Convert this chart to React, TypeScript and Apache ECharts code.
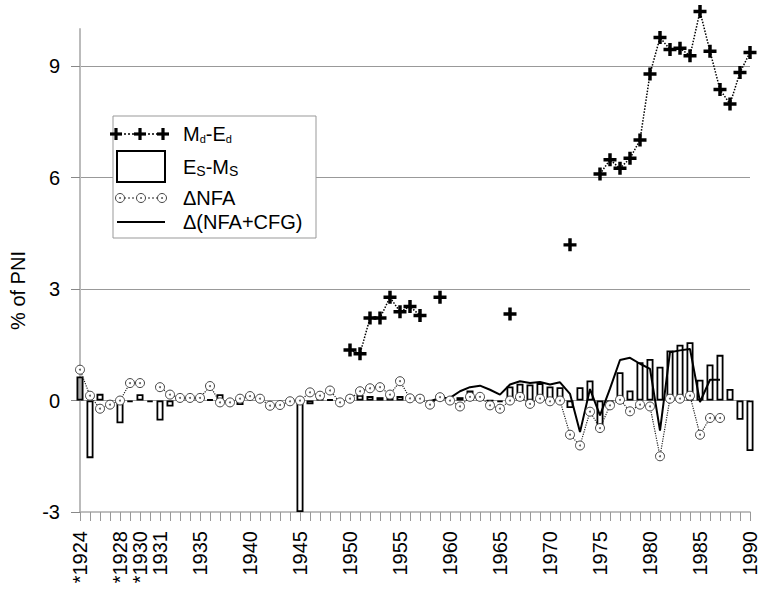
import React, { useEffect, useRef } from "react";
import * as echarts from "echarts";

// Category tick labels (one per category on the x axis)
const yearLabels: string[] = [
  "*1924", "", "", "", "*1928", "", "*1930", "", "1931", "", "", "", "1935", "", "", "", "",
  "1940", "", "", "", "", "1945", "", "", "", "", "1950", "", "", "", "", "1955", "", "", "", "",
  "1960", "", "", "", "", "1965", "", "", "", "", "1970", "", "", "", "", "1975", "", "", "", "",
  "1980", "", "", "", "", "1985", "", "", "", "", "1990",
];

// Md-Ed (% of PNI)
const mdEd: (number | null)[] = [
  null, null, null, null, null, null, null, null, null, null, null, null, null, null, null, null, null,
  null, null, null, null, null, null, null, null, null, null, 1.36, 1.26, 2.22, 2.22, 2.78, 2.39, 2.53, 2.29, null, 2.78,
  null, null, null, null, null, null, 2.33, null, null, null, null, null, 4.19, null, null, 6.10, 6.48, 6.25, 6.52, 7.01,
  8.79, 9.77, 9.45, 9.48, 9.28, 10.47, 9.40, 8.37, 7.98, 8.83, 9.37,
];

// Es-Ms (% of PNI)
const esMs: (number | null)[] = [
  0.65, -1.55, 0.18, -0.04, -0.61, -0.04, 0.17, -0.04, -0.54, -0.16, 0.12, 0.12, 0.1, 0.03, 0.17, -0.1, -0.12,
  null, null, null, null, null, -3.0, -0.1, 0.05, 0.03, -0.03, 0.15, 0.15, 0.12, 0.09, 0.12, 0.12, 0.05, 0.15, -0.05, 0.08,
  0.05, 0.09, 0.27, 0.17, 0.0, -0.04, 0.38, 0.45, 0.43, 0.47, 0.38, 0.36, -0.2, 0.36, 0.54, -0.8, -0.18, 0.76, 0.27, 1.03,
  1.12, 0.91, 1.35, 1.5, 1.57, 0.56, 0.97, 1.23, 0.31, -0.52, -1.36,
];

// ΔNFA (% of PNI)
const dNfa: (number | null)[] = [
  0.83, 0.13, -0.22, -0.11, 0, 0.47, 0.47, null, 0.36, 0.16, 0.07, 0.07, 0.07, 0.39, -0.05, -0.05, 0.05,
  0.12, 0.05, -0.14, -0.12, -0.02, 0, 0.22, 0.13, 0.27, -0.05, 0.05, 0.25, 0.33, 0.36, 0.16, 0.52, 0.06, 0.05, -0.11, 0.09,
  0, -0.16, 0.1, 0.1, -0.13, -0.22, 0, 0.1, -0.09, 0.05, -0.02, 0, -0.92, -1.21, -0.3, -0.74, -0.13, 0.02, -0.29, -0.11,
  -0.16, -1.5, 0.05, 0.05, 0.13, -0.92, -0.47, -0.47, null, null, null,
];

// Δ(NFA+CFG) (% of PNI)
const dNfaCfg: (number | null)[] = [
  null, null, null, null, null, null, null, null, null, null, null, null, null, null, null, null, null,
  null, null, null, null, null, null, null, null, null, null, null, null, null, null, null, null, null, null, -0.02, 0.07,
  0.07, 0.25, 0.36, 0.4, 0.29, 0.16, 0.43, 0.52, 0.47, 0.5, 0.43, 0.49, 0.18, -0.85, 0.31, -0.4, 0.32, 1.09, 1.15, 0.99,
  0.85, -0.81, 1.3, 1.35, 1.39, -0.04, 0.56, 0.56, null, null, null,
];

const yTicks = [-3, 0, 3, 6, 9];
const gridValues = [0, 3, 6, 9];

const FONT = "'Liberation Sans', Arial, sans-serif";
const PLUS = "path://M-1.6,-6H1.6V-1.6H6V1.6H1.6V6H-1.6V1.6H-6V-1.6H-1.6Z";

export default function App() {
  const ref = useRef<HTMLDivElement>(null);
  useEffect(() => {
    if (!ref.current) return;
    const chart = echarts.init(ref.current, null, { renderer: "svg" });
    const cats = yearLabels.map((_, i) => String(i));

    const plus = (cx: number, cy: number) => ({
      type: "group",
      x: cx,
      y: cy,
      z: 101,
      children: [
        { type: "rect", shape: { x: -6, y: -1.6, width: 12, height: 3.2 }, style: { fill: "#000" }, z: 101 },
        { type: "rect", shape: { x: -1.6, y: -6, width: 3.2, height: 12 }, style: { fill: "#000" }, z: 101 },
      ],
    });
    const circ = (cx: number, cy: number) => ({
      type: "group",
      x: cx,
      y: cy,
      z: 101,
      children: [
        { type: "circle", shape: { cx: 0, cy: 0, r: 4.5 }, style: { fill: "#fff", stroke: "#444", lineWidth: 1 }, z: 101 },
        { type: "circle", shape: { cx: 0, cy: 0, r: 0.8 }, style: { fill: "#333" }, z: 102 },
      ],
    });
    const textStyle = { fontFamily: FONT, fontSize: 20, fill: "#000" };

    chart.setOption({
      animation: false,
      backgroundColor: "#fff",
      grid: { left: 77, right: 8, top: 29, bottom: 79 },
      xAxis: {
        type: "category",
        data: cats,
        boundaryGap: false,
        axisLine: { onZero: false, lineStyle: { color: "#aaa", width: 1.5 } },
        axisTick: { interval: 0, length: 9, lineStyle: { color: "#999" } },
        axisLabel: {
          interval: 0,
          rotate: 90,
          margin: 19,
          fontFamily: FONT,
          fontSize: 20,
          color: "#000",
          formatter: (_v: string, i: number) => yearLabels[i],
        },
        splitLine: { show: false },
      },
      yAxis: {
        type: "value",
        min: -3,
        max: 10,
        name: "% of PNI",
        nameLocation: "middle",
        nameGap: 52,
        nameTextStyle: { fontFamily: FONT, fontSize: 20, color: "#000", padding: [0, 0, 0, -40] },
        axisLine: { show: true, lineStyle: { color: "#bbb", width: 2 } },
        axisTick: { show: true, length: 9, customValues: yTicks, lineStyle: { color: "#888" } },
        axisLabel: { customValues: yTicks, margin: 20, fontFamily: FONT, fontSize: 20, color: "#000" },
        splitLine: { show: false },
      },
      series: [
        {
          name: "Es-Ms",
          type: "bar",
          data: esMs.map((v, i) =>
            i === 0 ? { value: v, itemStyle: { color: "#aaa" } } : v
          ),
          barWidth: 7,
          clip: false,
          itemStyle: { color: "#fff", borderColor: "#000", borderWidth: 1.8 },
          markLine: {
            silent: true,
            symbol: "none",
            label: { show: false },
            lineStyle: { color: "#999", type: "solid", width: 1 },
            data: gridValues.map((v) => ({ yAxis: v })),
            z: 0,
          },
          z: 2,
        },
        {
          name: "Δ(NFA+CFG)",
          type: "line",
          data: dNfaCfg,
          showSymbol: false,
          connectNulls: false,
          clip: false,
          lineStyle: { color: "#000", width: 2 },
          z: 3,
        },
        {
          name: "ΔNFA",
          type: "line",
          data: dNfa,
          symbol: "circle",
          symbolSize: 9,
          connectNulls: false,
          clip: false,
          itemStyle: { color: "#fff", borderColor: "#444", borderWidth: 1 },
          lineStyle: { color: "#222", width: 1.2, type: "dotted" },
          z: 4,
        },
        {
          name: "ΔNFA dot",
          type: "scatter",
          data: dNfa,
          symbol: "circle",
          symbolSize: 2,
          clip: false,
          itemStyle: { color: "#333" },
          z: 5,
        },
        {
          name: "Md-Ed",
          type: "line",
          data: mdEd,
          symbol: PLUS,
          symbolSize: 13,
          connectNulls: false,
          clip: false,
          itemStyle: { color: "#000" },
          lineStyle: { color: "#000", width: 1.5, type: "dotted" },
          z: 6,
        },
      ],
      graphic: [
        {
          type: "rect",
          shape: { x: 113, y: 116, width: 203, height: 122 },
          style: { fill: "#fff", stroke: "#999", lineWidth: 1 },
          z: 100,
        },
        // row 1
        { type: "line", shape: { x1: 116, y1: 134, x2: 163, y2: 134 }, style: { stroke: "#000", lineWidth: 1.5, lineDash: [2, 2] }, z: 100 },
        plus(116, 134),
        plus(140, 134),
        plus(163, 134),
        {
          type: "text",
          x: 183,
          y: 134,
          z: 101,
          style: {
            text: "M{s|d}-E{s|d}",
            ...textStyle,
            verticalAlign: "middle",
            rich: { s: { fontFamily: FONT, fontSize: 11, fill: "#000", padding: [9, 0, 0, 0] } },
          },
        },
        // row 2
        { type: "rect", shape: { x: 117, y: 151, width: 48, height: 31 }, style: { fill: "#fff", stroke: "#000", lineWidth: 2 }, z: 101 },
        {
          type: "text",
          x: 183,
          y: 167,
          z: 101,
          style: {
            text: "E{s|S}-M{s|S}",
            ...textStyle,
            verticalAlign: "middle",
            rich: { s: { fontFamily: FONT, fontSize: 14, fill: "#000", padding: [8, 0, 0, 0] } },
          },
        },
        // row 3
        { type: "line", shape: { x1: 120, y1: 198, x2: 162, y2: 198 }, style: { stroke: "#222", lineWidth: 1.2, lineDash: [2, 2] }, z: 100 },
        circ(120, 198),
        circ(141, 198),
        circ(162, 198),
        { type: "text", x: 183, y: 198, z: 101, style: { text: "ΔNFA", ...textStyle, verticalAlign: "middle" } },
        // row 4
        { type: "line", shape: { x1: 117, y1: 222, x2: 165, y2: 222 }, style: { stroke: "#000", lineWidth: 2 }, z: 101 },
        { type: "text", x: 183, y: 222, z: 101, style: { text: "Δ(NFA+CFG)", ...textStyle, verticalAlign: "middle" } },
      ],
    });
    return () => chart.dispose();
  }, []);
  return <div ref={ref} style={{ width: 760, height: 591, position: "absolute", left: 0, top: 0 }} />;
}
